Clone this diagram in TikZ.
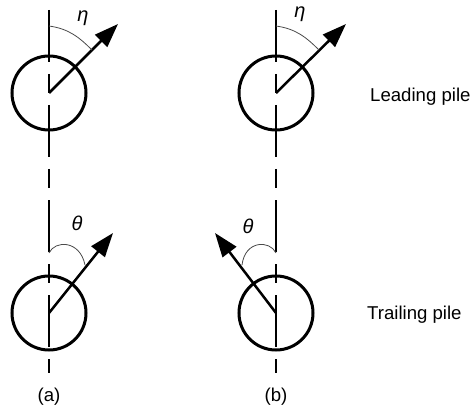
\documentclass[tikz,border=0pt]{standalone}
\usepackage{fontspec}
\setmainfont{Liberation Sans}
\usepackage{tikz}
\usetikzlibrary{arrows.meta,positioning}
\definecolor{mute}{HTML}{4A4A4A}
\tikzset{
  pile/.style={circle,draw,line width=3pt,minimum size=74pt,inner sep=0pt},
  axisline/.style={line width=1.2pt,dash pattern=on 52pt off 12pt on 19pt off 12pt},
  dirarr/.style={-{Triangle[length=24pt,width=17pt]},line width=2.5pt},
  angarc/.style={draw=mute,line width=0.8pt},
  lab/.style={font=\fontsize{18.6}{22}\selectfont,inner sep=0pt},
  ang/.style={font=\fontsize{20}{22}\selectfont\itshape},
}
\begin{document}
\begin{tikzpicture}[x=1pt,y=1pt]
\useasboundingbox (0,0) rectangle (472,408);
\coordinate (axA top) at (49,398);
\coordinate (axA bot) at (49,35);
\coordinate (axB top) at (276,398);
\coordinate (axB bot) at (276,35);
\draw[axisline] (axA top) -- (axA bot);
\draw[axisline] (axB top) -- (axB bot);
\node[pile] (leadA) at (49,315) {};
\node[pile] (leadB) at (276,315) {};
\node[pile] (trailA) at (49,95) {};
\node[pile] (trailB) at (276,95) {};
\coordinate (leadA tip) at (118,384);
\coordinate (leadB tip) at (346,384);
\coordinate (trailA tip) at (113,175);
\coordinate (trailB tip) at (215,175);
\draw[dirarr] (leadA.center) -- (leadA tip);
\draw[dirarr] (leadB.center) -- (leadB tip);
\draw[dirarr] (trailA.center) -- (trailA tip);
\draw[dirarr] (trailB.center) -- (trailB tip);
\draw[angarc] (49,382) to[out=-8,in=135] (92,358);
\draw[angarc] (276,382) to[out=-8,in=135] (319,358);
\draw[angarc] (49,155) .. controls (55,168) and (80,168) .. (85,143);
\draw[angarc] (276,155) .. controls (270,168) and (245,168) .. (242,143);
\node[ang] (etaA) at (83,390) {η};
\node[ang] (etaB) at (300,394) {η};
\node[ang] (thetaA) at (77,185) {θ};
\node[ang] (thetaB) at (248,182) {θ};
\node[lab,anchor=west] (leading) at (370,311) {Leading pile};
\node[lab,anchor=west] (trailing) at (367,93) {Trailing pile};
\node[lab] (capA) at (49,11) {(a)};
\node[lab] (capB) at (276,11) {(b)};
\end{tikzpicture}
\end{document}
